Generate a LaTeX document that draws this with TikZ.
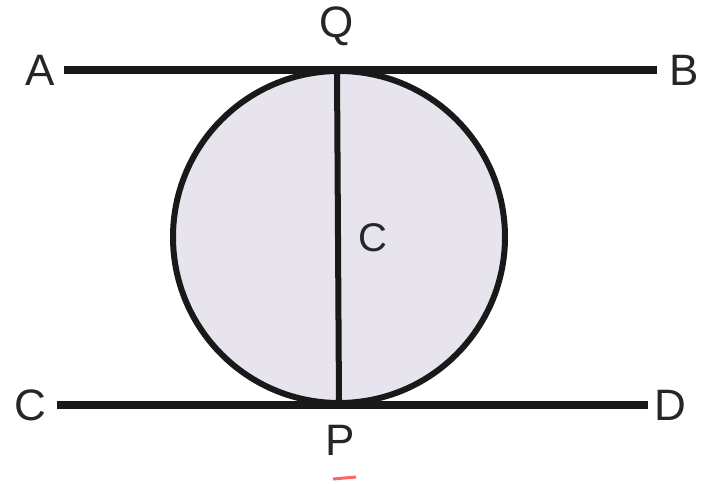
\documentclass[tikz,border=0pt]{standalone}
\usepackage{fontspec}
\setmainfont{Liberation Sans}
\begin{document}
\begin{tikzpicture}[x=1pt,y=-1pt,
  lbl/.style={inner sep=0pt,font=\fontsize{44}{48}\selectfont,text=black!85},
  thickline/.style={line width=8.5pt,black!90},
  thinline/.style={line width=6pt,black!90}]
\useasboundingbox (0,0) rectangle (703,484);
\coordinate (O) at (339,237);
\fill[fill={rgb,255:red,232;green,228;blue,238}] (O) circle (166);
\draw[thinline] (O) circle (166);
\coordinate (Qp) at (337,70);
\coordinate (Pp) at (339,404);
\draw[thinline] (Qp) -- (Pp);
\coordinate (A1) at (64,70);
\coordinate (B1) at (657,70);
\coordinate (C1) at (57,405);
\coordinate (D1) at (648,405);
\draw[thickline] (A1) -- (B1);
\draw[thickline] (C1) -- (D1);
\node[lbl] (A) at (40,70) {A};
\node[lbl] (B) at (684,70) {B};
\node[lbl] (Q) at (337,26) {Q};
\node[lbl] (Cl) at (30,405) {C};
\node[lbl] (D) at (670,405) {D};
\node[lbl] (P) at (340,440) {P};
\node[lbl,font=\fontsize{40}{44}\selectfont] (Cc) at (373,238) {C};
\draw[line width=3pt,red!60!white] (333,479) -- (356,477);
\end{tikzpicture}
\end{document}
